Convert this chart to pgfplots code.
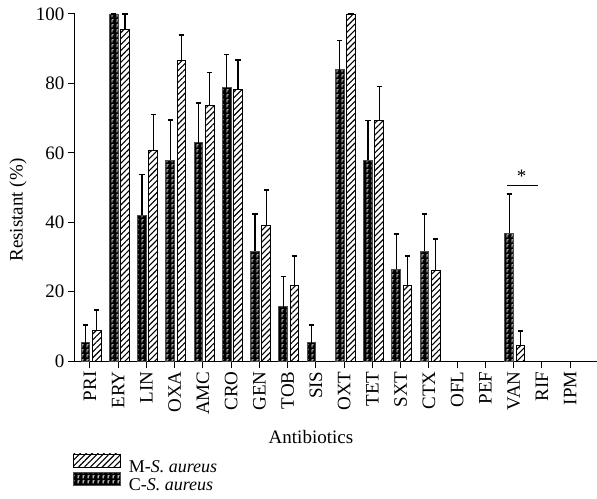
\documentclass[border=0pt]{standalone}
\usepackage{pgfplots}
\usepackage{pgfplotstable}
\pgfplotsset{compat=1.18}
\usepackage{fontspec}
\setmainfont{Liberation Serif}
\usetikzlibrary{patterns,patterns.meta}

% white "gamma" dashes laid over the black C bars
\pgfdeclarepatternformonly{gammadash}{\pgfpointorigin}{\pgfpoint{4.5pt}{5pt}}{\pgfpoint{4.5pt}{5pt}}{
  \pgfsetlinewidth{0.9pt}
  \pgfpathmoveto{\pgfpoint{1.2pt}{0.6pt}}
  \pgfpathlineto{\pgfpoint{1.2pt}{3.8pt}}
  \pgfpathlineto{\pgfpoint{3pt}{3.8pt}}
  \pgfusepath{stroke}
}

\newcommand{\chartfont}{\fontsize{19}{22}\selectfont}
\pgfplotsset{boxlegend/.style={legend image code/.code={\draw[##1] (0pt,-0.5pt) rectangle (47pt,13pt);}}}

% C-S. aureus: position, value, error
\pgfplotstableread{
x  y     e
0  5.3   5.1
1  100   0
2  42.0  11.7
3  57.8  11.6
4  62.9  11.4
5  78.8  9.5
6  31.7  10.7
7  15.7  8.6
8  5.3   5.1
9  83.9  8.5
10 57.8  11.5
11 26.4  10.2
12 31.6  10.8
15 36.8  11.3
}\tblC

% M-S. aureus
\pgfplotstableread{
x  y     e
0  8.7   6.0
1  95.5  4.5
2  60.6  10.5
3  86.7  7.2
4  73.8  9.3
5  78.2  8.5
6  39.1  10.2
7  21.8  8.5
9  100   0
10 69.4  9.7
11 21.8  8.5
12 26.2  9.0
15 4.5   4.1
}\tblM

\begin{document}
\begin{tikzpicture}
\begin{axis}[
    width=522pt, height=347pt, scale only axis,
    ybar, bar width=0.31,
    xmin=-0.53, xmax=17.95, ymin=0, ymax=100,
    axis x line=bottom, axis y line=left,
    axis line style={-, line width=1pt},
    xtick={0,...,17},
    xticklabels={PRI,ERY,LIN,OXA,AMC,CRO,GEN,TOB,SIS,OXT,TET,SXT,CTX,OFL,PEF,VAN,RIF,IPM},
    xticklabel style={rotate=90, anchor=east},
    ytick={0,20,...,100},
    tick align=outside, major tick length=7pt,
    tick style={black, line width=1pt},
    tick label style={font=\chartfont},
    /pgf/number format/assume math mode=true,
    ylabel={Resistant (\%)}, xlabel={Antibiotics},
    label style={font=\chartfont},
    ylabel style={at={(axis description cs:-0.109,0.435)}, anchor=center},
    xlabel style={at={(axis description cs:0.452,-0.219)}, anchor=center},
    legend style={draw=none, fill=none, font=\fontsize{18}{20}\selectfont,
        at={(axis description cs:-0.004,-0.266)}, anchor=north west,
        row sep=-4pt, column sep=6pt, inner sep=0pt},
    legend cell align=left,
    reverse legend,
    clip=false,
    error bars/y dir=plus, error bars/y explicit,
    error bars/error bar style={line width=1.2pt, black},
    error bars/error mark options={rotate=90, line width=1.5pt, mark size=2.6pt, black},
]
\addplot[bar shift=-0.16, fill=black, draw=black!70, line width=0.8pt,
    postaction={pattern=gammadash, pattern color=white}, boxlegend]
    table[x=x, y=y, y error=e] {\tblC};
\addlegendentry{C-\textit{S. aureus}}

\addplot[bar shift=0.24, fill=white, draw=black, line width=0.8pt,
    pattern={Lines[angle=45, distance=4.2pt, line width=1.1pt]}, boxlegend]
    table[x=x, y=y, y error=e] {\tblM};
\addlegendentry{M-\textit{S. aureus}}

% significance marker over VAN
\draw[line width=1pt] (axis cs:14.77,50.7) -- (axis cs:15.87,50.7);
\node[font=\chartfont, anchor=base] at (axis cs:15.28,51.3) {*};
\end{axis}
\pgfresetboundingbox
\useasboundingbox (-75pt,-137pt) rectangle (522pt,361pt);
\end{tikzpicture}
\end{document}
